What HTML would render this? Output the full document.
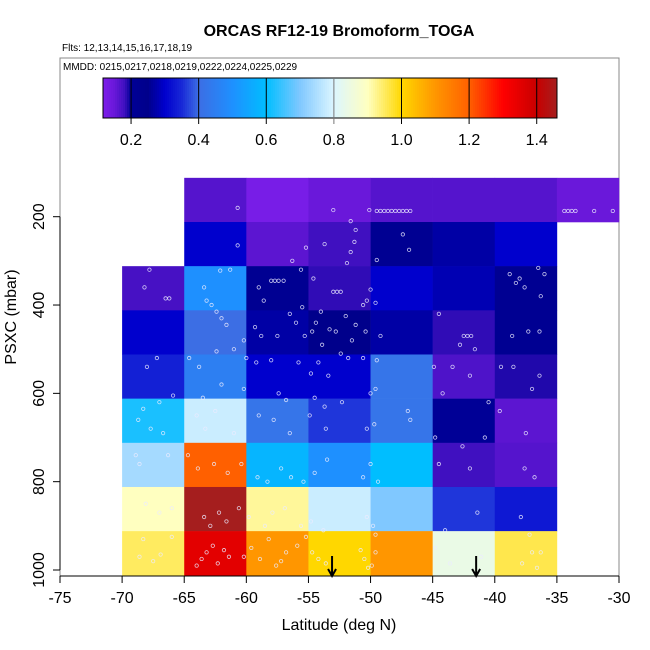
<!DOCTYPE html>
<html><head><meta charset="utf-8"><style>
html,body{margin:0;padding:0;background:#fff;}
svg{display:block;font-family:"Liberation Sans",sans-serif;}
</style></head><body>
<svg id="chart" width="650" height="650" viewBox="0 0 650 650" xmlns="http://www.w3.org/2000/svg">
<text x="339" y="36" font-size="16" font-weight="bold" text-anchor="middle">ORCAS RF12-19 Bromoform_TOGA</text>
<text x="62" y="51" font-size="10">Flts: 12,13,14,15,16,17,18,19</text>
<rect x="60" y="58" width="559" height="518" fill="none" stroke="#888" stroke-width="1"/>
<text x="63" y="70" font-size="10">MMDD: 0215,0217,0218,0219,0222,0224,0225,0229</text>
<g id="cells"></g>
<g id="points"></g>
<g id="arrows"></g>
<g id="colorbar"></g>
<g id="axes"></g>
<text x="339" y="630" font-size="16" text-anchor="middle">Latitude (deg N)</text>
<text transform="translate(16,317) rotate(-90)" font-size="16" text-anchor="middle">PSXC (mbar)</text>
</svg>
<script>
const NS="http://www.w3.org/2000/svg";
// data
const xTicks=[-75,-70,-65,-60,-55,-50,-45,-40,-35,-30];
const yTicks=[200,400,600,800,1000];
const cbTicks=[0.2,0.4,0.6,0.8,1.0,1.2,1.4];
const cbTickLabels=["0.2","0.4","0.6","0.8","1.0","1.2","1.4"];
const latBins=[-70,-65,-60,-55,-50,-45,-40,-35];
const pBins=[162,262,362,462,562,662,762,862,962];
// rows = pressure bins (top to bottom), cols = latBins; null = no data
const cellValues=[
 [null,0.165,0.125,0.15,0.165,0.165,0.165,0.15],
 [null,0.3,0.16,0.18,0.22,0.27,0.3,null],
 [0.175,0.5,0.22,0.185,0.3,0.28,0.22,null],
 [0.3,0.4,0.27,0.25,0.27,0.185,0.22,null],
 [0.34,0.45,0.3,0.3,0.42,0.17,0.19,null],
 [0.62,0.78,0.42,0.36,0.42,0.2,0.16,null],
 [0.74,1.2,0.58,0.5,0.6,0.18,0.165,null],
 [0.9,1.46,0.92,0.78,0.7,0.36,0.33,null],
 [0.95,1.35,1.1,1.0,1.1,0.84,0.96,null]
];
const pointLat=[-60.7,-53.0,-51.6,-51.2,-50.1,-49.5,-49.2,-48.9,-48.6,-48.3,-48.0,-47.7,-47.4,-47.1,-46.8,-34.4,-34.1,-33.8,-33.5,-32.0,-30.5,
-51.3,-53.7,-55.2,-51.6,-60.7,-56.3,-46.9,-47.4,-61.3,-62.1,-63.4,-55.6,-54.6,-51.9,-49.5,-36.5,-38.0,-37.6,-36.3,-67.8,-68.2,-66.5,-66.2,
-57.0,-57.4,-57.7,-58.0,-59.0,-58.6,-53.0,-52.7,-52.4,-50.0,-49.6,-50.3,-44.5,-38.8,-38.3,-36.0,-63.2,-62.8,-62.4,-62.0,-61.6,
-56.5,-56.0,-55.5,-54.4,-54.0,-53.3,-52.0,-51.2,-50.6,-58.8,-57.5,-60.2,-59.3,-55.3,-54.7,-53.9,-52.8,-51.5,-50.4,-49.2,-42.5,-42.2,-41.9,-42.8,-41.6,-38.6,-36.4,-37.3,
-68.0,-67.2,-64.6,-62.4,-61.0,-63.8,-60.0,-59.2,-58.0,-55.8,-54.8,-54.2,-53.4,-52.4,-51.8,-50.6,-49.5,-44.9,-43.4,-42.0,-39.5,-38.5,-36.4,
-67.0,-68.3,-65.9,-63.5,-62.0,-60.2,-57.4,-56.8,-54.5,-53.7,-52.3,-50.0,-49.6,-47.0,-44.2,-40.5,-39.6,-37.0,
-68.7,-67.7,-66.7,-64.0,-63.3,-62.5,-61.0,-59.0,-57.8,-56.5,-54.9,-53.6,-50.3,-49.7,-46.8,-44.8,-42.6,-40.8,-37.5,
-68.6,-68.9,-66.3,-64.7,-63.9,-62.6,-61.5,-60.4,-59.1,-58.3,-57.2,-56.4,-55.4,-54.5,-53.5,-50.6,-50.0,-49.4,-44.5,-42.0,-37.6,-36.8,
-68.1,-67.0,-66.0,-63.4,-62.9,-62.2,-61.6,-60.6,-59.8,-58.5,-57.9,-56.9,-55.6,-54.8,-53.8,-50.3,-49.8,-49.6,-44.0,-41.4,-37.9,-37.2,
-68.3,-67.5,-66.9,-68.6,-66.0,-64.0,-63.6,-63.2,-62.7,-62.3,-61.8,-61.4,-60.2,-59.6,-58.9,-58.2,-57.6,-57.2,-56.8,-55.9,-55.2,-54.7,-54.2,-53.6,-50.8,-50.5,-50.2,-49.9,-49.6,-44.8,-43.6,-41.1,-37.0,-37.8,-36.6,-36.3];
const pointP=[180,185,210,230,185,187,187,187,187,187,187,187,187,187,187,187,187,187,187,187,187,
257,262,270,280,265,300,275,240,320,322,360,320,340,305,298,316,340,360,380,320,360,385,385,
345,345,345,345,360,390,370,370,370,365,395,390,420,330,350,330,390,400,415,430,445,
420,440,405,440,415,455,425,445,400,470,470,480,450,470,460,490,460,480,460,470,470,470,470,490,500,470,460,460,
540,520,520,505,500,540,520,530,525,530,555,530,560,510,520,520,525,540,540,560,540,540,560,
620,635,605,610,580,590,600,615,610,630,620,600,590,640,600,620,640,590,
660,680,690,650,680,640,690,650,660,690,650,680,680,670,660,700,720,700,690,
760,740,740,740,770,760,780,760,790,800,770,790,800,780,750,790,760,800,760,770,770,790,
850,870,860,880,900,870,890,860,880,900,870,860,900,890,910,880,900,920,910,870,880,920,
930,980,965,970,925,990,975,960,945,985,955,970,970,950,975,930,990,980,960,945,925,960,975,985,955,975,995,990,960,950,985,970,960,985,995,960];
const arrowLat=[-53.1,-41.5];

// axis functions
const X0=60,X1=619,LMIN=-75,LMAX=-30;
const xs=l=>X0+(l-LMIN)*(X1-X0)/(LMAX-LMIN);
const ys=p=>216.7+(p-200)*(570-216.7)/800;
const CB0=103,CB1=557,VMIN=0.117,VMAX=1.46;
const cbx=v=>CB0+(v-VMIN)*(CB1-CB0)/(VMAX-VMIN);
const stops=[[0.117,[125,30,235]],[0.15,[106,24,218]],[0.18,[64,16,192]],[0.2,[0,0,150]],[0.25,[0,0,139]],[0.3,[0,0,205]],[0.35,[24,40,215]],[0.4,[60,110,228]],[0.5,[30,144,255]],[0.6,[0,190,255]],[0.7,[128,200,255]],[0.8,[220,246,255]],[0.9,[255,255,192]],[1.0,[255,215,0]],[1.1,[255,150,0]],[1.2,[255,96,0]],[1.3,[255,0,0]],[1.4,[200,0,0]],[1.46,[165,30,30]]];
function col(v){
 if(v<=stops[0][0])return "rgb("+stops[0][1]+")";
 for(let i=1;i<stops.length;i++){if(v<=stops[i][0]){const a=stops[i-1],b=stops[i],t=(v-a[0])/(b[0]-a[0]);
  return "rgb("+a[1].map((c,k)=>Math.round(c+(b[1][k]-c)*t)).join(",")+")";}}
 return "rgb("+stops[stops.length-1][1]+")";
}
function mk(tag,attrs,parent){const e=document.createElementNS(NS,tag);for(const k in attrs)e.setAttribute(k,attrs[k]);parent.appendChild(e);return e;}

const gC=document.getElementById("cells");
cellValues.forEach((row,ri)=>row.forEach((v,ci)=>{
 if(v===null)return;
 const x=xs(latBins[ci]),x2=xs(latBins[ci]+5),y=ys(pBins[ri]-50),y2=ys(pBins[ri]+50);
 const r=mk("rect",{x:x,y:y,width:x2-x+0.3,height:y2-y+0.3,fill:col(v)},gC);
 
 
}));
const gP=document.getElementById("points");
pointLat.forEach((l,i)=>{
 const c=mk("circle",{cx:xs(l),cy:ys(pointP[i]),r:1.7,fill:"none",stroke:"rgba(235,235,255,0.85)","stroke-width":0.8},gP);
 
 
});
const gA=document.getElementById("arrows");
arrowLat.forEach(l=>{
 const x=xs(l);
 const a=mk("path",{d:`M${x},556 L${x},576 M${x-4},569 L${x},576 L${x+4},569`,stroke:"#000","stroke-width":2,fill:"none"},gA);
 
 
});
// colorbar
const gB=document.getElementById("colorbar");
for(let px=CB0;px<CB1;px+=2){
 const v=VMIN+(px+1-CB0)*(VMAX-VMIN)/(CB1-CB0);
 mk("rect",{x:px,y:78,width:2.3,height:40,fill:col(v)},gB);
}
mk("rect",{x:CB0,y:78,width:CB1-CB0,height:40,fill:"none",stroke:"#000","stroke-width":1},gB);
cbTicks.forEach((t,i)=>{
 const x=cbx(t);
 mk("line",{x1:x,x2:x,y1:78,y2:124,stroke:t===0.8?"#777":"#000","stroke-width":1},gB);
 const tx=mk("text",{x:x,y:145,"font-size":16,"text-anchor":"middle"},gB);
 tx.textContent=cbTickLabels[i];
 
 
});
// axes
const gX=document.getElementById("axes");
mk("line",{x1:xs(-75),x2:xs(-30),y1:576,y2:576,stroke:"#000"},gX);
xTicks.forEach(t=>{
 const x=xs(t);
 mk("line",{x1:x,x2:x,y1:576,y2:583,stroke:"#000"},gX);
 const tx=mk("text",{x:x,y:603,"font-size":16,"text-anchor":"middle"},gX);
 tx.textContent=String(t);
 
 
});
mk("line",{x1:60,x2:60,y1:ys(200),y2:ys(1000),stroke:"#000"},gX);
yTicks.forEach(t=>{
 const y=ys(t);
 mk("line",{x1:53,x2:60,y1:y,y2:y,stroke:"#000"},gX);
 const tx=mk("text",{transform:`translate(44,${y}) rotate(-90)`,"font-size":16,"text-anchor":"middle"},gX);
 tx.textContent=String(t);
 
 
});
</script>
</body></html>
